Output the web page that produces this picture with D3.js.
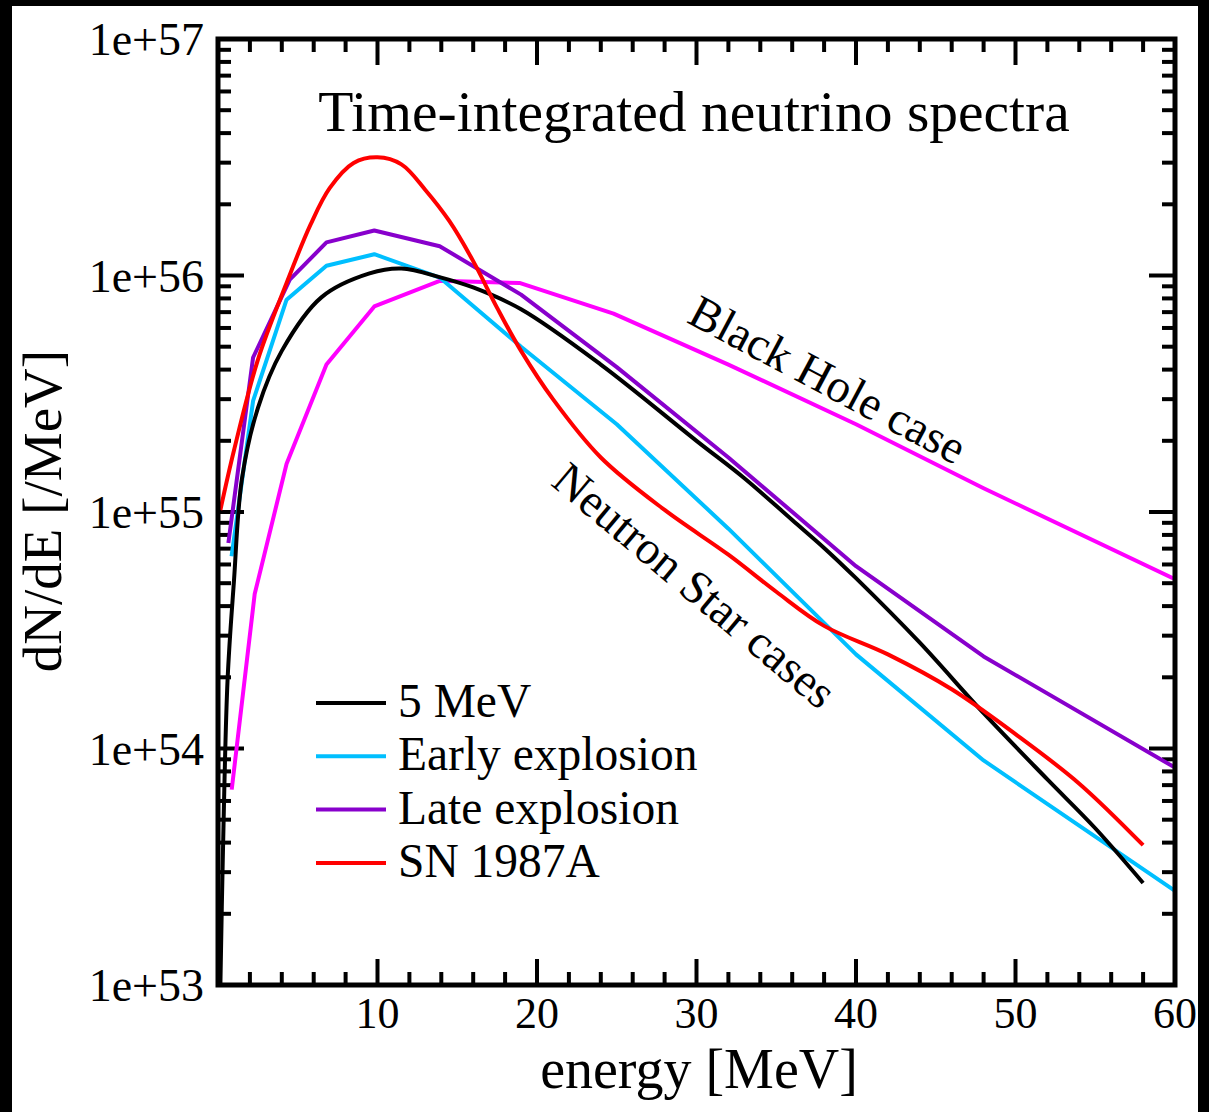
<!DOCTYPE html>
<html><head><meta charset="utf-8">
<script src="https://cdn.jsdelivr.net/npm/d3@7"></script>
<style>html,body{margin:0;padding:0;background:#fff;}svg{display:block;}</style>
</head><body>
<svg id="c" width="1209" height="1112"></svg>
<script>
// ---- data ----
const xTicks = [10, 20, 30, 40, 50, 60];
const yTickLabels = ["1e+53", "1e+54", "1e+55", "1e+56", "1e+57"];
const seriesNames = ["5 MeV", "Early explosion", "Late explosion", "SN 1987A"];

const blackE = [0.15,0.3,0.6,1.0,1.5,2.5,4,6.5,9.5,11.5,14,16,19,24,30,33,36,38,40,44,48,52,55,58];
const blackV = [1.0e53,3.4e53,1.95e54,5.1e54,1.38e55,2.75e55,4.8e55,8.1e55,1.02e56,1.07e56,9.8e55,8.9e55,7.2e55,4.2e55,2.0e55,1.39e55,9.25e54,7.05e54,5.25e54,2.8e54,1.41e54,7.4e53,4.6e53,2.7e53];

const cyanE = [0.85,2.2,4.3,6.8,9.8,13.9,19,25,32,40,48,60];
const cyanV = [6.5e54,2.95e55,7.9e55,1.10e56,1.23e56,9.8e55,5.0e55,2.35e55,8.5e54,2.5e54,8.9e53,2.5e53];

const purpleE = [0.65,2.2,4.5,6.8,9.8,13.9,19,25,32,40,48,60];
const purpleV = [7.4e54,4.5e55,9.6e55,1.38e56,1.55e56,1.33e56,8.3e55,4.1e55,1.7e55,5.9e54,2.45e54,8.3e53];

const redE = [0.15,1.0,2.5,4.3,5.8,7,8.5,10,11.5,13,14.5,16,17.5,19,21,24,28,32,35,38,42,46,50,54,58];
const redV = [1.02e55,1.82e55,4.4e55,9.3e55,1.64e56,2.34e56,2.99e56,3.16e56,2.95e56,2.3e56,1.7e56,1.15e56,7.3e55,4.8e55,3.0e55,1.7e55,1.02e55,6.6e54,4.6e54,3.3e54,2.5e54,1.78e54,1.15e54,7.1e53,3.9e53];

const magentaE = [0.86,2.3,4.3,6.8,9.8,13.9,18.9,24.8,32,40,48,60];
const magentaV = [6.7e53,4.5e54,1.6e55,4.2e55,7.4e55,9.5e55,9.3e55,6.9e55,4.2e55,2.35e55,1.26e55,5.2e54];

// ---- layout ----
const L = 218, R = 1175, T = 39, B = 985;
const svg = d3.select("#c");
const serif = "'Liberation Serif','Times New Roman',serif";
const x = d3.scaleLinear().domain([0, 60]).range([L, R]);
const y = d3.scaleLog().domain([1e53, 1e57]).range([B, T]);

svg.append("rect").attr("width",1209).attr("height",1112).attr("fill","#fff");

svg.append("defs").append("clipPath").attr("id","clip")
  .append("rect").attr("x",L).attr("y",T).attr("width",R-L).attr("height",B-T);

// ticks
const minorX = d3.range(2, 60, 2).filter(v => v % 10 !== 0);
const tickG = svg.append("g").attr("stroke","#000").attr("stroke-width",4);
[[B,-1],[T,1]].forEach(([yy,dir]) => {
  xTicks.slice(0,5).forEach(v => tickG.append("line").attr("x1",x(v)).attr("x2",x(v)).attr("y1",yy).attr("y2",yy+dir*26));
  minorX.forEach(v => tickG.append("line").attr("x1",x(v)).attr("x2",x(v)).attr("y1",yy).attr("y2",yy+dir*13));
});
const majorY = [1e53,1e54,1e55,1e56,1e57];
const minorY = [];
[53,54,55,56].forEach(p => { for (let m=2;m<=9;m++) minorY.push(m*Math.pow(10,p)); });
[[L,1],[R,-1]].forEach(([xx,dir]) => {
  majorY.slice(1,4).forEach(v => tickG.append("line").attr("x1",xx).attr("x2",xx+dir*26).attr("y1",y(v)).attr("y2",y(v)));
  minorY.forEach(v => tickG.append("line").attr("x1",xx).attr("x2",xx+dir*13).attr("y1",y(v)).attr("y2",y(v)));
});

// lines
const line = (E, V, curve) => d3.line().x((d,i)=>x(E[i])).y(d=>y(d)).curve(curve)(V);
const smooth = d3.curveCatmullRom.alpha(0.5);
const plot = svg.append("g").attr("clip-path","url(#clip)").attr("fill","none").attr("stroke-width",4).attr("stroke-linejoin","round");
plot.append("path").attr("d", line(magentaE, magentaV, d3.curveLinear)).attr("stroke","#ff00ff");
plot.append("path").attr("d", line(purpleE, purpleV, d3.curveLinear)).attr("stroke","#8800cc");
plot.append("path").attr("d", line(cyanE, cyanV, d3.curveLinear)).attr("stroke","#00bfff");
plot.append("path").attr("d", line(blackE, blackV, smooth)).attr("stroke","#000");
plot.append("path").attr("d", line(redE, redV, smooth)).attr("stroke","#ff0000");

// frame
svg.append("rect").attr("x",L).attr("y",T).attr("width",R-L).attr("height",B-T)
  .attr("fill","none").attr("stroke","#000").attr("stroke-width",5);

// tick labels
xTicks.forEach(v => svg.append("text").attr("x",x(v)).attr("y",1028).attr("text-anchor","middle")
  .attr("font-family",serif).attr("font-size",44).attr("fill","#000").text(v));
yTickLabels.forEach((s,i) => svg.append("text").attr("x",204).attr("y",y(majorY[i])).attr("dy","0.35em")
  .attr("text-anchor","end").attr("font-family",serif).attr("font-size",46).attr("fill","#000").text(s));

// axis titles
svg.append("text").attr("x",699).attr("y",1088).attr("text-anchor","middle")
  .attr("font-family",serif).attr("font-size",56).text("energy [MeV]");
svg.append("text").attr("transform","translate(61,511) rotate(-90)").attr("text-anchor","middle")
  .attr("font-family",serif).attr("font-size",55).text("dN/dE [/MeV]");

// title
svg.append("text").attr("x",694).attr("y",131).attr("text-anchor","middle")
  .attr("font-family",serif).attr("font-size",57.5).text("Time-integrated neutrino spectra");

// annotations
svg.append("text").attr("transform","translate(828,379) rotate(28)").attr("text-anchor","middle").attr("dy","0.35em")
  .attr("font-family",serif).attr("font-size",47).text("Black Hole case");
svg.append("text").attr("transform","translate(695,585) rotate(40)").attr("text-anchor","middle").attr("dy","0.35em")
  .attr("font-family",serif).attr("font-size",47).text("Neutron Star cases");

// legend
const legColors = ["#000","#00bfff","#8800cc","#ff0000"];
seriesNames.forEach((s,i) => {
  const yy = 703 + i*53.3;
  svg.append("line").attr("x1",316).attr("x2",386).attr("y1",yy).attr("y2",yy)
    .attr("stroke",legColors[i]).attr("stroke-width",4);
  svg.append("text").attr("x",398).attr("y",yy+14).attr("font-family",serif).attr("font-size",47.5).text(s);
});

// outer black border
svg.append("rect").attr("x",0).attr("y",0).attr("width",12).attr("height",1112).attr("fill","#000");
svg.append("rect").attr("x",0).attr("y",0).attr("width",1209).attr("height",6).attr("fill","#000");
svg.append("rect").attr("x",1198).attr("y",0).attr("width",11).attr("height",1112).attr("fill","#000");
</script>
</body></html>
